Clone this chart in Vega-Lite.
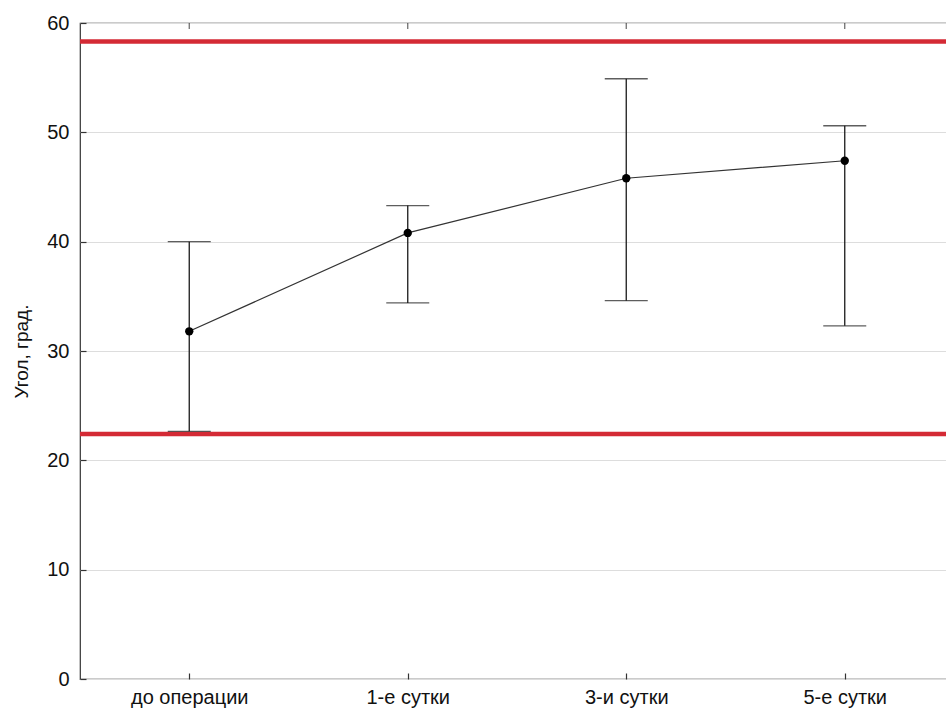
{
  "$schema": "https://vega.github.io/schema/vega-lite/v6.json",
  "autosize": "none",
  "width": 874,
  "height": 656,
  "padding": {"left": 80, "top": 23, "right": 0, "bottom": 34},
  "background": "white",
  "config": {
    "view": {"stroke": "#333333", "strokeWidth": 1.2},
    "font": "Liberation Sans",
    "axis": {
      "labelFont": "Liberation Sans",
      "titleFont": "Liberation Sans",
      "labelColor": "#111111",
      "titleColor": "#111111",
      "tickColor": "#333333",
      "domain": false,
      "labelFontSize": 20
    }
  },
  "datasets": {
    "stats": [
      {"group": "до операции", "mean": 31.8, "lo": 22.65, "hi": 40.0},
      {"group": "1-е сутки", "mean": 40.8, "lo": 34.4, "hi": 43.3},
      {"group": "3-и сутки", "mean": 45.8, "lo": 34.6, "hi": 54.9},
      {"group": "5-е сутки", "mean": 47.4, "lo": 32.3, "hi": 50.6}
    ],
    "limits": [
      {"limit": 58.3},
      {"limit": 22.4}
    ]
  },
  "layer": [
    {
      "data": {"name": "stats"},
      "mark": {"type": "rule", "color": "#1a1a1a", "strokeWidth": 1.3},
      "encoding": {
        "x": {
          "field": "group", "type": "nominal",
          "sort": ["до операции", "1-е сутки", "3-и сутки", "5-е сутки"],
          "scale": {"type": "point", "padding": 0.5},
          "axis": {"orient": "bottom", "title": null, "labelAngle": 0, "tickSize": -6, "tickWidth": 1.2, "labelPadding": 14}
        },
        "y": {
          "field": "lo", "type": "quantitative",
          "scale": {"domain": [0, 60], "nice": false},
          "axis": {
            "orient": "left", "title": "Угол, град.", "values": [0, 10, 20, 30, 40, 50, 60],
            "tickSize": -6, "tickWidth": 1.2, "labelPadding": 17, "grid": true, "gridColor": "#dddddd", "gridWidth": 1,
            "titleFontSize": 19, "titleFontWeight": "normal", "titlePadding": 15
          }
        },
        "y2": {"field": "hi"}
      }
    },
    {
      "data": {"name": "stats"},
      "mark": {"type": "tick", "color": "#222222", "thickness": 1.2, "size": 6, "orient": "vertical", "yOffset": 3},
      "encoding": {
        "x": {"field": "group", "type": "nominal", "sort": ["до операции", "1-е сутки", "3-и сутки", "5-е сутки"]},
        "y": {"datum": 60, "type": "quantitative"}
      }
    },
    {
      "data": {"name": "limits"},
      "mark": {"type": "rule", "color": "#d42a35", "strokeWidth": 4.5},
      "encoding": {
        "y": {"field": "limit", "type": "quantitative"}
      }
    },
    {
      "data": {"name": "stats"},
      "mark": {"type": "tick", "color": "#1a1a1a", "thickness": 1.3, "size": 43, "orient": "horizontal"},
      "encoding": {
        "x": {"field": "group", "type": "nominal", "sort": ["до операции", "1-е сутки", "3-и сутки", "5-е сутки"]},
        "y": {"field": "lo", "type": "quantitative"}
      }
    },
    {
      "data": {"name": "stats"},
      "mark": {"type": "tick", "color": "#1a1a1a", "thickness": 1.3, "size": 43, "orient": "horizontal"},
      "encoding": {
        "x": {"field": "group", "type": "nominal", "sort": ["до операции", "1-е сутки", "3-и сутки", "5-е сутки"]},
        "y": {"field": "hi", "type": "quantitative"}
      }
    },
    {
      "data": {"name": "stats"},
      "mark": {"type": "line", "color": "#333333", "strokeWidth": 1.2},
      "encoding": {
        "x": {"field": "group", "type": "nominal", "sort": ["до операции", "1-е сутки", "3-и сутки", "5-е сутки"]},
        "y": {"field": "mean", "type": "quantitative"}
      }
    },
    {
      "data": {"name": "stats"},
      "mark": {"type": "circle", "color": "#000000", "size": 70, "opacity": 1},
      "encoding": {
        "x": {"field": "group", "type": "nominal", "sort": ["до операции", "1-е сутки", "3-и сутки", "5-е сутки"]},
        "y": {"field": "mean", "type": "quantitative"}
      }
    }
  ]
}
